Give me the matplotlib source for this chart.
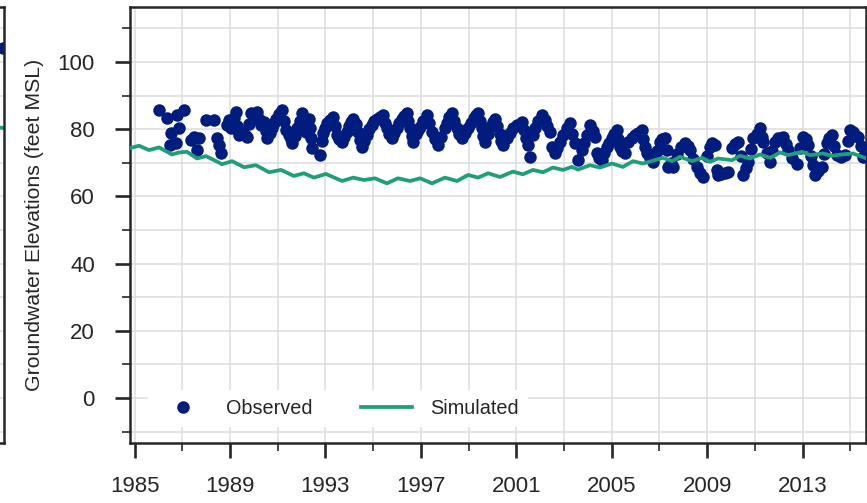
import matplotlib
matplotlib.use("Agg")
from matplotlib import pyplot as plt
from matplotlib import ticker, font_manager

# observed groundwater elevations (decimal year, feet MSL)
obs_year = [1986.03, 1986.37, 1986.47, 1986.52, 1986.73, 1986.80, 1986.87, 1987.07, 1987.36, 1987.49,
            1987.63, 1987.70, 1987.98, 1988.33, 1988.47, 1988.54, 1988.61, 1988.89, 1988.96,
            1989.05, 1989.15, 1989.24, 1989.31, 1989.38, 1989.52, 1989.62, 1989.73, 1989.80, 1989.87,
            1990.00, 1990.15, 1990.22, 1990.29, 1990.43, 1990.50, 1990.57, 1990.68, 1990.78, 1990.85,
            1990.92, 1991.05, 1991.19, 1991.26, 1991.34, 1991.48, 1991.55, 1991.61, 1991.72, 1991.82,
            1991.92, 1992.03, 1992.10, 1992.18, 1992.30, 1992.36, 1992.41, 1992.45,
            1992.77, 1992.85, 1992.92, 1992.98, 1993.08, 1993.19, 1993.33, 1993.40, 1993.47, 1993.58,
            1993.68, 1993.80, 1993.89, 1994.00, 1994.08, 1994.17, 1994.28, 1994.38, 1994.45, 1994.52,
            1994.62, 1994.73, 1994.84, 1994.94, 1995.05, 1995.15, 1995.30, 1995.43, 1995.50, 1995.57,
            1995.67, 1995.78, 1995.88, 1995.99, 1996.10, 1996.20, 1996.30, 1996.41, 1996.48, 1996.55,
            1996.62, 1996.68, 1996.80, 1996.88, 1996.97, 1997.10, 1997.25, 1997.35, 1997.46, 1997.60,
            1997.73, 1997.85, 1998.01, 1998.10, 1998.20, 1998.29, 1998.40, 1998.50, 1998.60, 1998.71,
            1998.85, 1998.99, 1999.10, 1999.22, 1999.32, 1999.41, 1999.48, 1999.55, 1999.62, 1999.69,
            1999.80, 1999.92, 2000.02, 2000.11, 2000.20, 2000.30, 2000.38, 2000.46, 2000.60, 2000.72,
            2000.88, 2001.05, 2001.23, 2001.33, 2001.42, 2001.50, 2001.58, 2001.71, 2001.80, 2001.93,
            2002.07, 2002.20, 2002.30, 2002.41, 2002.49, 2002.62, 2002.72, 2002.83, 2002.95, 2003.11,
            2003.25, 2003.35, 2003.46, 2003.60, 2003.74, 2003.85, 2003.95, 2004.09, 2004.20, 2004.30,
            2004.37, 2004.48, 2004.58, 2004.68, 2004.79, 2004.90, 2005.00, 2005.10, 2005.21, 2005.28,
            2005.35, 2005.45, 2005.56, 2005.70, 2005.85, 2005.98, 2006.12, 2006.26, 2006.33, 2006.40,
            2006.50, 2006.61, 2006.74, 2006.88, 2007.02, 2007.12, 2007.23, 2007.31, 2007.37, 2007.48,
            2007.58, 2007.75, 2007.90, 2008.07, 2008.18, 2008.28, 2008.42, 2008.56, 2008.70, 2008.84,
            2008.98, 2009.12, 2009.22, 2009.33, 2009.40, 2009.47, 2009.60, 2009.75, 2009.89, 2010.03,
            2010.17, 2010.31, 2010.40, 2010.52, 2010.62, 2010.73, 2010.83, 2010.93, 2011.08, 2011.22,
            2011.30, 2011.35, 2011.50, 2011.63, 2011.73, 2011.84, 2011.98, 2012.10, 2012.19, 2012.30,
            2012.40, 2012.55, 2012.75, 2012.90, 2013.03, 2013.13, 2013.24, 2013.35, 2013.45, 2013.52,
            2013.66, 2013.80, 2013.90, 2014.01, 2014.12, 2014.22, 2014.32, 2014.43, 2014.60, 2014.78,
            2014.90, 2014.99, 2015.10, 2015.20, 2015.34, 2015.44, 2015.54]
obs_ft = [85.7, 83.4, 75.3, 78.8, 75.8, 84.2, 80.3, 85.7, 76.8, 77.8,
          73.8, 77.3, 82.7, 82.7, 77.3, 75.3, 72.8, 81.3, 82.7,
          80.3, 83.5, 85.2, 81.0, 78.3, 79.3, 78.2, 77.8, 81.5, 84.7,
          84.0, 85.2, 83.0, 81.3, 82.2, 79.5, 77.3, 79.0, 80.3, 81.8,
          83.2, 84.5, 85.7, 82.5, 79.8, 78.3, 77.0, 75.8, 78.0, 80.3,
          82.5, 84.7, 82.0, 79.3, 83.2, 80.3, 77.5, 74.3,
          72.3, 76.5, 78.8, 80.3, 81.8, 82.7, 83.7, 81.0, 78.3, 77.0,
          76.3, 77.8, 79.3, 81.0, 82.3, 83.2, 81.5, 79.3, 76.8, 74.8,
          76.5, 78.3, 80.0, 81.3, 82.5, 83.2, 83.8, 84.2, 82.0, 80.3,
          78.5, 77.3, 78.8, 80.3, 81.9, 83.2, 84.0, 84.7, 82.5, 80.3,
          78.0, 76.3, 78.5, 79.8, 80.8, 82.6, 84.2, 81.8, 79.3, 77.0,
          75.3, 77.8, 80.3, 82.0, 83.6, 84.7, 82.5, 80.3, 78.5, 77.3,
          78.8, 80.3, 81.8, 83.3, 84.3, 84.7, 82.5, 80.3, 78.0, 76.3,
          78.5, 80.8, 82.2, 83.2, 81.0, 78.5, 76.5, 75.3, 77.3, 78.8,
          80.3, 81.3, 82.2, 79.8, 77.5, 75.3, 71.8, 78.3, 80.5, 82.5,
          84.2, 82.7, 81.0, 79.3, 74.8, 72.8, 74.5, 76.3, 78.3, 80.3,
          81.8, 78.5, 75.8, 70.8, 73.8, 76.0, 78.3, 81.3, 79.5, 77.8,
          72.8, 71.5, 70.8, 72.8, 74.8, 76.0, 77.3, 78.5, 79.8, 77.0,
          74.8, 73.5, 72.8, 76.3, 77.3, 78.3, 79.0, 79.8, 77.0, 74.8,
          72.8, 71.3, 70.3, 73.5, 76.3, 77.0, 77.3, 73.8, 68.8, 70.0,
          68.8, 72.5, 74.8, 75.8, 75.0, 73.8, 71.0, 68.8, 67.0, 65.9,
          72.0, 74.8, 75.8, 75.3, 67.9, 66.4, 66.8, 67.0, 67.4, 74.3,
          75.5, 76.3, 72.0, 66.4, 68.5, 70.3, 74.0, 77.3, 78.5, 80.3,
          77.8, 76.3, 73.0, 70.3, 73.5, 76.3, 77.3, 77.3, 77.8, 75.5,
          73.8, 71.5, 69.8, 74.5, 77.8, 77.0, 75.3, 72.0, 69.3, 66.4,
          67.5, 68.8, 72.5, 75.8, 77.3, 78.3, 75.0, 72.3, 71.8, 72.3,
          76.5, 79.8, 79.2, 78.3, 77.8, 75.0, 71.8]

# simulated groundwater elevations
sim_year = [1984.77, 1985.19, 1985.61, 1986.03, 1986.57, 1986.87, 1987.20, 1987.62, 1988.00, 1988.67,
            1989.09, 1989.59, 1990.09, 1990.64, 1991.14, 1991.68, 1992.10, 1992.52, 1993.02, 1993.70,
            1994.16, 1994.62, 1995.08, 1995.58, 1996.04, 1996.55, 1996.97, 1997.47, 1998.01, 1998.52,
            1998.98, 1999.40, 1999.82, 2000.32, 2000.86, 2001.28, 2001.70, 2002.12, 2002.54, 2002.96,
            2003.33, 2003.59, 2004.09, 2004.51, 2005.01, 2005.47, 2005.89, 2006.31, 2007.15, 2007.53,
            2007.86, 2008.37, 2008.79, 2009.12, 2009.46, 2010.04, 2010.38, 2010.80, 2011.22, 2011.64,
            2012.06, 2012.39, 2012.98, 2013.31, 2013.86, 2014.23, 2014.65, 2015.11, 2015.69]
sim_ft = [74.3, 75.1, 73.8, 74.6, 72.5, 73.1, 73.3, 71.3, 72.0, 69.6,
          70.5, 68.7, 69.3, 67.2, 67.9, 66.1, 66.9, 65.6, 66.7, 64.6,
          65.6, 64.9, 65.4, 63.9, 65.4, 64.6, 65.4, 63.9, 65.6, 64.6,
          66.4, 65.6, 66.9, 65.8, 67.4, 66.6, 67.9, 67.2, 68.6, 67.9,
          68.8, 68.0, 69.3, 68.6, 69.8, 68.8, 70.5, 69.8, 71.5, 70.5,
          71.8, 70.5, 71.5, 70.3, 71.3, 70.8, 72.1, 71.3, 72.5, 71.5,
          73.1, 72.3, 73.3, 72.3, 72.8, 72.1, 72.5, 72.8, 71.3]

# what is visible of the neighbouring panel at the left edge
nb_obs_year = [2015.60]
nb_obs_ft = [104.2]
nb_sim_year = [2015.20, 2015.70]
nb_sim_ft = [80.6, 80.4]

major_years = [1985, 1989, 1993, 1997, 2001, 2005, 2009, 2013]
minor_years = [1987, 1991, 1995, 1999, 2003, 2007, 2011, 2015]
major_ft = [0, 20, 40, 60, 80, 100]
minor_ft = [-10, 10, 30, 50, 70, 90, 110]

navy = '#001c7f'
green = '#1f9e78'
dark = '#262626'
grid_c = '#dcdcdc'

names = {f.name for f in font_manager.fontManager.ttflist}
family = 'Liberation Sans Narrow' if 'Liberation Sans Narrow' in names else 'Liberation Sans'
plt.rcParams['font.family'] = [family, 'DejaVu Sans']
fs_tick, fs_label, fs_leg = 16, 15.3, 14.3

fig = plt.figure(figsize=(8.67, 5.03), dpi=100)
W, H = 867, 503
x0, x1, ytop, ybot = 129.5, 866, 7, 443
ax = fig.add_axes([x0 / W, (H - ybot) / H, (x1 - x0) / W, (ybot - ytop) / H])
nb = fig.add_axes([(4 - (x1 - x0)) / W, (H - ybot) / H, (x1 - x0) / W, (ybot - ytop) / H])


def style_axes(a):
    a.set_xlim(1984.79, 2015.66)
    a.set_ylim(-13.4, 116.4)
    a.xaxis.set_major_locator(ticker.FixedLocator(major_years))
    a.xaxis.set_minor_locator(ticker.FixedLocator(minor_years))
    a.yaxis.set_major_locator(ticker.FixedLocator(major_ft))
    a.yaxis.set_minor_locator(ticker.FixedLocator(minor_ft))
    a.grid(True, which='both', color=grid_c, lw=1.1, zorder=0)
    a.set_axisbelow(True)
    for s in a.spines.values():
        s.set_linewidth(1.8)
        s.set_color(dark)
    a.tick_params(which='major', direction='out', length=11, width=1.9, color=dark,
                  labelsize=fs_tick, labelcolor=dark)
    a.tick_params(which='minor', direction='out', length=5.5, width=1.2, color=dark)
    a.tick_params(axis='y', which='major', pad=14)
    a.tick_params(axis='x', which='major', pad=13)


style_axes(ax)
style_axes(nb)
nb.set_xticklabels([])
nb.set_yticklabels([])

ax.plot(obs_year, obs_ft, 'o', color=navy, ms=9, mec='none', label='Observed', zorder=3)
ax.plot(sim_year, sim_ft, '-', color=green, lw=2.7, label='Simulated', zorder=4)
nb.plot(nb_obs_year, nb_obs_ft, 'o', color=navy, ms=9, mec='none')
nb.plot(nb_sim_year, nb_sim_ft, '-', color=green, lw=2.7)

ax.set_ylabel('Groundwater Elevations (feet MSL)', fontsize=fs_label, color=dark, labelpad=10)

leg = ax.legend(loc='lower left', bbox_to_anchor=(0.0251, 0.0367), borderaxespad=0, ncol=2,
                fontsize=fs_leg, frameon=True, fancybox=False, framealpha=1, facecolor='white',
                edgecolor='none', handlelength=2.6, handletextpad=0.9, columnspacing=2.4,
                borderpad=0.45)
for t in leg.get_texts():
    t.set_color(dark)

fig.savefig('out.png', dpi=100)
